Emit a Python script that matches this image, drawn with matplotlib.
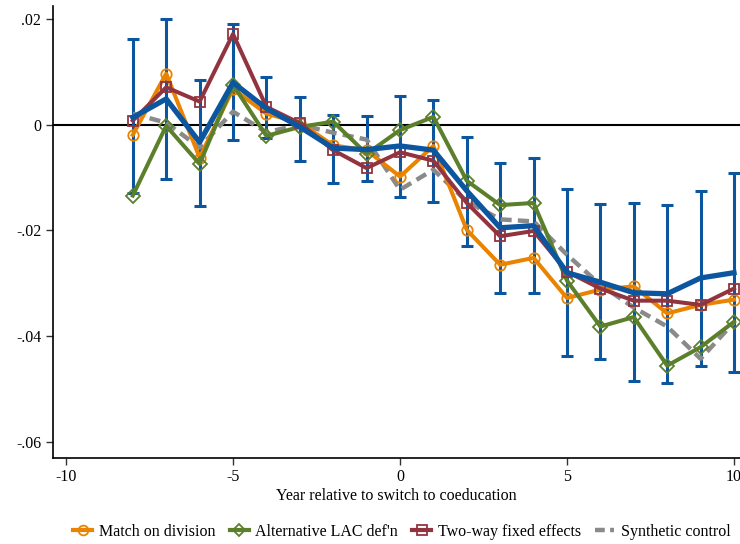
import matplotlib
matplotlib.use("Agg")
import matplotlib.pyplot as plt
from matplotlib.lines import Line2D

plt.rcParams["font.family"] = ["Liberation Serif", "DejaVu Serif"]

# Event-study estimates, years relative to switch
years = list(range(-8, 11))

baseline = [0.0014, 0.0049, -0.0033, 0.0080, 0.0031, -0.0004, -0.0044, -0.0047,
            -0.0040, -0.0048, -0.0125, -0.0195, -0.0191, -0.0280, -0.0298,
            -0.0318, -0.0320, -0.0290, -0.0280]
ci_low = [-0.0130, -0.0102, -0.0153, -0.0028, -0.0025, -0.0069, -0.0110, -0.0107,
          -0.0136, -0.0147, -0.0229, -0.0319, -0.0319, -0.0437, -0.0444,
          -0.0486, -0.0489, -0.0457, -0.0468]
ci_high = [0.0162, 0.0201, 0.0084, 0.0190, 0.0090, 0.0052, 0.0018, 0.0016,
           0.0055, 0.0047, -0.0023, -0.0073, -0.0063, -0.0122, -0.0150,
           -0.0148, -0.0152, -0.0125, -0.0092]

match_division = [-0.0019, 0.0097, -0.0062, 0.0068, 0.0021, 0.0004, -0.0039, -0.0048,
                  -0.0098, -0.0040, -0.0199, -0.0265, -0.0252, -0.0328, -0.0312,
                  -0.0306, -0.0357, -0.0341, -0.0331]
alt_lac = [-0.0134, -0.0002, -0.0074, 0.0076, -0.0021, -0.0004, 0.0006, -0.0055,
           -0.0010, 0.0015, -0.0106, -0.0152, -0.0148, -0.0295, -0.0382,
           -0.0364, -0.0456, -0.0421, -0.0373]
twoway_fe = [0.0008, 0.0071, 0.0044, 0.0172, 0.0034, 0.0003, -0.0048, -0.0082,
             -0.0052, -0.0068, -0.0148, -0.0211, -0.0201, -0.0278, -0.0310,
             -0.0333, -0.0333, -0.0341, -0.0310]
synth = [0.0021, 0.0004, -0.0043, 0.0025, -0.0014, 0.0000, -0.0015, -0.0028,
         -0.0123, -0.0085, -0.0145, -0.0179, -0.0183, -0.0246, -0.0303,
         -0.0346, -0.0382, -0.0443, -0.0374]

yticks = [0.02, 0, -0.02, -0.04, -0.06]
ytick_labels = [".02", "0", "-.02", "-.04", "-.06"]
xticks = [-10, -5, 0, 5, 10]

c_orange = "#E98300"
c_green = "#5B7F2B"
c_red = "#923440"
c_blue = "#0C56A0"
c_gray = "#8A8A8A"

fig = plt.figure(figsize=(7.4, 5.44), dpi=100)
ax = fig.add_axes([0.0716, 0.158, 0.9284, 0.831])

ax.axhline(0, color="black", lw=1.5, zorder=1)

ax.errorbar(years, baseline,
            yerr=[[b - l for b, l in zip(baseline, ci_low)],
                  [h - b for b, h in zip(baseline, ci_high)]],
            fmt="none", ecolor=c_blue, elinewidth=2.2, capsize=4.5,
            capthick=2.2, zorder=2)

ax.plot(years, synth, color=c_gray, lw=3.2, ls=(0, (2.5, 1.4)), zorder=3)
ax.plot(years, match_division, color=c_orange, lw=2.9, marker="o", ms=7.5,
        mfc="none", mec=c_orange, mew=1.3, zorder=4)
ax.plot(years, alt_lac, color=c_green, lw=2.9, marker="D", ms=7,
        mfc="none", mec=c_green, mew=1.3, zorder=5)
ax.plot(years, twoway_fe, color=c_red, lw=2.9, marker="s", ms=7.5,
        mfc="none", mec=c_red, mew=1.3, zorder=6)
ax.plot(years, baseline, color=c_blue, lw=3.8, zorder=7)

ax.set_xlim(-10.39, 10.18)
ax.set_ylim(-0.0631, 0.0225)
ax.set_xticks(xticks)
ax.set_xticklabels([str(t) for t in xticks])
ax.set_yticks(yticks)
ax.set_yticklabels(ytick_labels)
ax.tick_params(axis="both", direction="out", length=5, width=1,
               labelsize=11.5, color="#333333")
ax.tick_params(axis="x", pad=3)

for s in ["top", "right"]:
    ax.spines[s].set_visible(False)
for s in ["left", "bottom"]:
    ax.spines[s].set_linewidth(1.2)

ax.set_xlabel("Year relative to switch to coeducation", fontsize=11.5,
              labelpad=2)

handles = [
    Line2D([], [], color=c_orange, lw=3, marker="o", ms=7, mfc="none",
           mec=c_orange, mew=1.3),
    Line2D([], [], color=c_green, lw=3, marker="D", ms=6.5, mfc="none",
           mec=c_green, mew=1.3),
    Line2D([], [], color=c_red, lw=3, marker="s", ms=7, mfc="none",
           mec=c_red, mew=1.3),
    Line2D([], [], color=c_gray, lw=3.2, ls=(0, (2.2, 1.2))),
]
labels = ["Match on division", "Alternative LAC def'n",
          "Two-way fixed effects", "Synthetic control"]
fig.legend(handles, labels, loc="center", bbox_to_anchor=(0.543, 0.022),
           ncol=4, frameon=False, fontsize=11.5, handlelength=1.2,
           handletextpad=0.4, columnspacing=0.9)

fig.savefig("out.png", dpi=100)
